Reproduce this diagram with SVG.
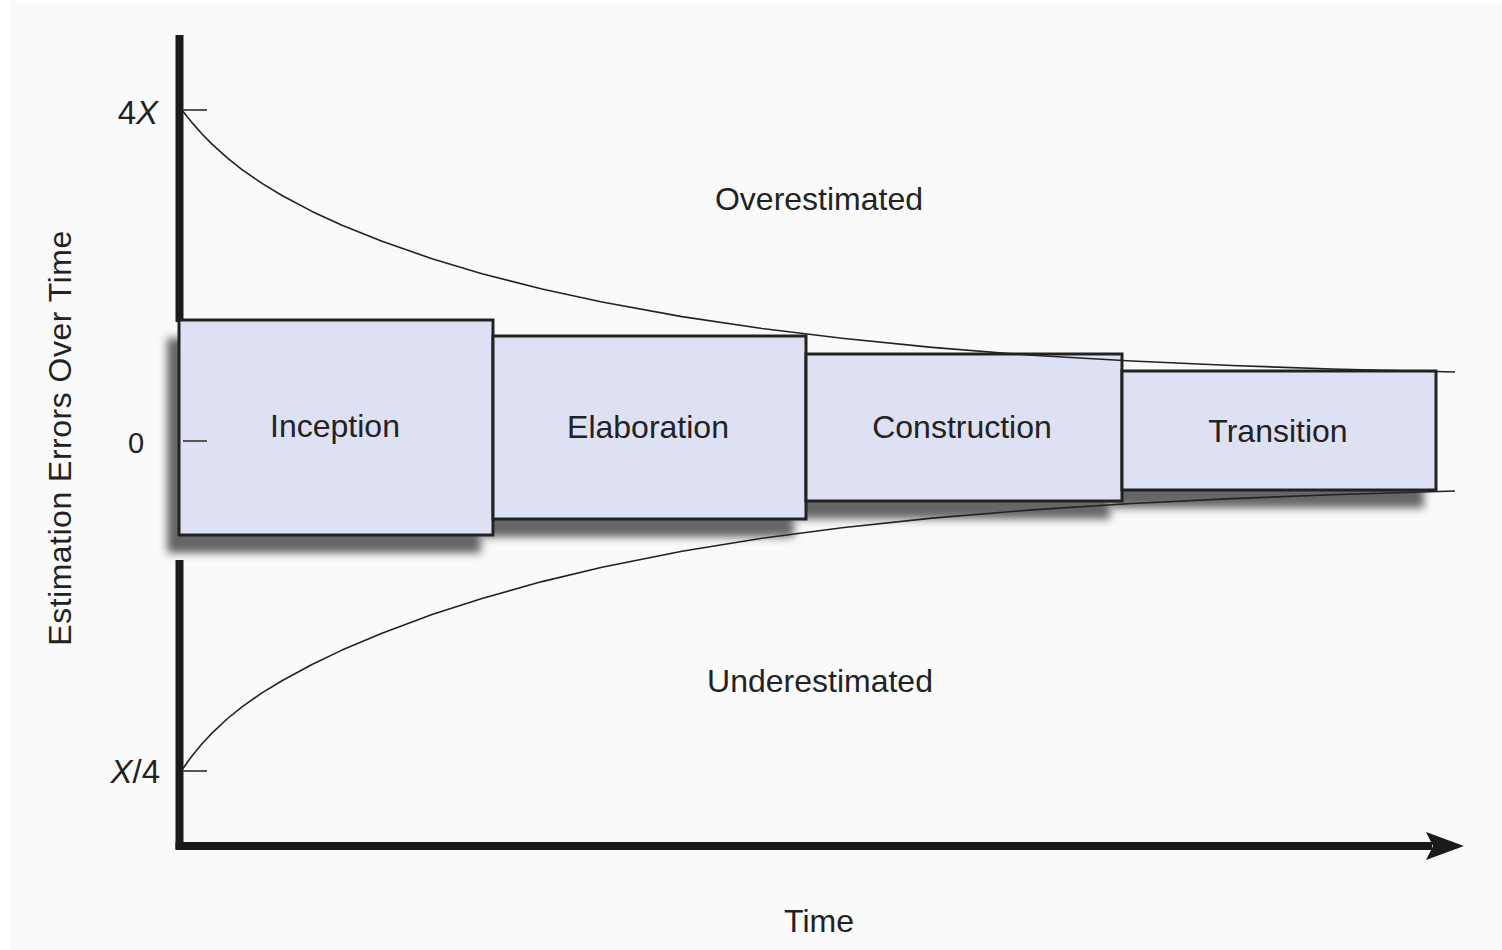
<svg xmlns="http://www.w3.org/2000/svg" width="1502" height="950" viewBox="0 0 1502 950">
  <defs>
    <filter id="blur" x="-10%" y="-20%" width="120%" height="140%">
      <feGaussianBlur stdDeviation="4"/>
    </filter>
    <style>
      .lbl { font-family: "Liberation Sans", Arial, sans-serif; font-size: 32px; fill: #222; }
      .box { fill: #dee0f3; stroke: #222; stroke-width: 3; }
      .shadow { fill: #666; filter: url(#blur); }
      .tick { stroke: #555; stroke-width: 2; }
      .curve { fill: none; stroke: #222; stroke-width: 1.6; stroke-linejoin: round; }
      .axis { stroke: #1a1a1a; stroke-width: 8; }
    </style>
  </defs>
  <rect x="0" y="0" width="1502" height="950" fill="#ffffff"/>
  <rect x="10" y="1" width="1492" height="949" fill="#fafafa"/>

  <g id="axes">
    <line class="axis" x1="179.5" y1="35" x2="179.5" y2="322"/>
    <line class="axis" x1="179.5" y1="560" x2="179.5" y2="849"/>
    <line class="axis" x1="175.5" y1="846" x2="1432" y2="846"/>
    <polygon points="1426,832 1464,846 1426,860 1433,846" fill="#1a1a1a"/>
  </g>

  <g id="shadows">
    <rect class="shadow" x="167" y="338" width="314" height="215"/>
    <rect class="shadow" x="481" y="354" width="313" height="183"/>
    <rect class="shadow" x="794" y="372" width="316" height="147"/>
    <rect class="shadow" x="1110" y="389" width="314" height="119"/>
  </g>

  <g id="inception">
    <rect class="box" x="179" y="320" width="314" height="215"/>
    <text class="lbl" x="335" y="437" text-anchor="middle">Inception</text>
  </g>
  <g id="elaboration">
    <rect class="box" x="493" y="336" width="313" height="183"/>
    <text class="lbl" x="648" y="438" text-anchor="middle">Elaboration</text>
  </g>
  <g id="construction">
    <rect class="box" x="806" y="354" width="316" height="147"/>
    <text class="lbl" x="962" y="438" text-anchor="middle">Construction</text>
  </g>
  <g id="transition">
    <rect class="box" x="1122" y="371" width="314" height="119"/>
    <text class="lbl" x="1278" y="442" text-anchor="middle">Transition</text>
  </g>

  <g id="connectors">
    <path id="upper-curve" class="curve" d="M182,110 L187,116.5 L192,122.6 L202,134 L212,144.1 L227,157.7 L242,169.6 L262,183.4 L282,195.5 L312,211.4 L342,225.2 L382,241.3 L432,258.7 L482,273.7 L542,289 L602,302 L682,316.6 L762,328.5 L842,338.3 L932,347.4 L1032,355.3 L1132,361 L1232,365.5 L1332,369 L1455,372"/>
    <path id="lower-curve" class="curve" d="M182,770 L187,762.7 L192,756 L202,743.7 L212,733.1 L227,719 L242,706.9 L262,692.9 L282,680.7 L312,664.5 L342,650.1 L382,633.2 L432,614.6 L482,598.4 L542,581.6 L602,567.2 L682,551.2 L762,538.2 L842,527.7 L932,518.1 L1032,509.9 L1132,503.5 L1232,498.6 L1332,494.8 L1455,491"/>
  </g>

  <g id="ticks">
    <line class="tick" x1="183" y1="110" x2="207" y2="110"/>
    <line class="tick" x1="183" y1="441" x2="207" y2="441"/>
    <line class="tick" x1="183" y1="771" x2="207" y2="771"/>
  </g>

  <g id="labels">
    <text class="lbl" x="158" y="124" text-anchor="end" style="font-size:33px">4<tspan font-style="italic">X</tspan></text>
    <text class="lbl" x="136" y="453" text-anchor="middle" style="font-size:29px">0</text>
    <text class="lbl" x="160" y="783" text-anchor="end" style="font-size:33px"><tspan font-style="italic">X</tspan>/4</text>
    <text class="lbl" x="819" y="210" text-anchor="middle">Overestimated</text>
    <text class="lbl" x="820" y="692" text-anchor="middle">Underestimated</text>
    <text class="lbl" x="819" y="932" text-anchor="middle">Time</text>
    <text class="lbl" transform="translate(71,438) rotate(-90)" text-anchor="middle" style="font-size:32px;letter-spacing:0.5px">Estimation Errors Over Time</text>
  </g>
</svg>
